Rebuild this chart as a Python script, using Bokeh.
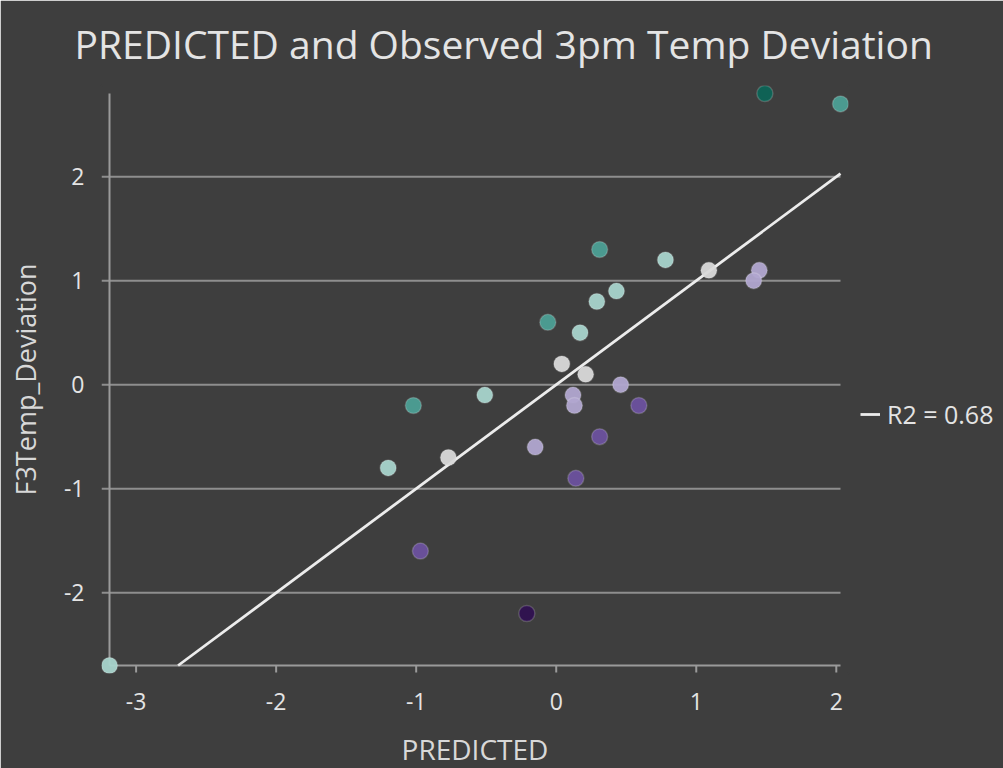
import numpy as np
from bokeh.plotting import figure
from bokeh.models import (Range1d, FixedTicker, ColumnDataSource,
                          CustomJSTickFormatter, Legend, LegendItem)
from bokeh.transform import linear_cmap
from bokeh.embed import file_html
from bokeh.resources import INLINE

# ---- data -------------------------------------------------------------
predicted = [1.49, 2.03, 0.31, 0.78, 1.09, 1.45, 1.41, 0.43, 0.29, -0.06,
             0.17, 0.04, 0.21, 0.46, 0.12, 0.13, 0.59, -0.51, -1.02, -0.15,
             0.31, 0.14, -0.77, -1.20, -0.97, -0.21, -3.19]
observed = [2.80, 2.70, 1.30, 1.20, 1.10, 1.10, 1.00, 0.90, 0.80, 0.60,
            0.50, 0.20, 0.10, 0.00, -0.10, -0.20, -0.20, -0.10, -0.20, -0.60,
            -0.50, -0.90, -0.70, -0.80, -1.60, -2.20, -2.70]
x_ticks = [-3, -2, -1, 0, 1, 2]
y_ticks = [-2, -1, 0, 1, 2]
trend_slope = 1.0
trend_intercept = 0.0
r2_text = "R2 = 0.68"
title_text = "PREDICTED and Observed 3pm Temp Deviation"
x_label = "PREDICTED"
y_label = "F3Temp_Deviation"
band_edges = [-1.2, -0.6, -0.2, 0.2, 0.6, 1.2]   # residual colour bands
band_palette = ["#2f1150", "#6c519e", "#b1a6d0", "#d9d9d9",
                "#a8d4cc", "#4c9f95", "#0d6456"]

# ---- layout constants ---------------------------------------------------
X_MIN, X_MAX = -3.19, 2.03
Y_MIN, Y_MAX = -2.70, 2.80
PX_X, PX_Y = 140.0, 104.0          # pixels per data unit
PAD = 8.0                          # frame padding (px) so edge points are not clipped
PAD_X, PAD_Y = PAD / PX_X, PAD / PX_Y
TICK_X = 7.0 / PX_Y                # x-axis tick stub length
FONT = "Open Sans"
BG = "#3e3e3e"
TXT = "#e4e4e4"
AXC = "#9a9a9a"
GRC = "#8e8e8e"

pred = np.array(predicted)
obs = np.array(observed)
band = np.digitize(obs - pred * trend_slope - trend_intercept, band_edges)
src = ColumnDataSource(dict(x=pred, y=obs, band=band))

fw = int(round((X_MAX - X_MIN + 2 * PAD_X) * PX_X))
fh = int(round((Y_MAX - Y_MIN + 2 * PAD_Y) * PX_Y))

p = figure(frame_width=fw, frame_height=fh,
           min_border_left=101, min_border_right=154,
           min_border_top=85, min_border_bottom=95,
           x_range=Range1d(X_MIN - PAD_X, X_MAX + PAD_X),
           y_range=Range1d(Y_MIN - PAD_Y, Y_MAX + PAD_Y),
           output_backend="svg", toolbar_location=None)
p.background_fill_color = BG
p.border_fill_color = BG
p.outline_line_color = BG
p.outline_line_width = 2
p.xgrid.visible = False
p.ygrid.visible = False

p.title.text = title_text
p.title.align = "left"
p.title.offset = -27
p.title.vertical_align = "middle"
p.title.text_font = FONT
p.title.text_font_size = "39px"
p.title.text_font_style = "normal"
p.title.text_color = TXT
p.title.standoff = 30

# grid lines (with the left tick stubs), axis lines, bottom tick stubs
p.segment(x0=X_MIN - PAD_X, x1=X_MAX, y0=y_ticks, y1=y_ticks,
          line_color=GRC, line_width=2)
p.segment(x0=[X_MIN, X_MIN], x1=[X_MIN, X_MAX],
          y0=[Y_MIN, Y_MIN], y1=[Y_MAX, Y_MIN],
          line_color=AXC, line_width=2)
p.segment(x0=x_ticks, x1=x_ticks, y0=Y_MIN, y1=Y_MIN - TICK_X,
          line_color=AXC, line_width=2)

# axes: labels only (lines drawn above)
fmt = CustomJSTickFormatter(code="return tick.toFixed(0);")
for ax, ticks in ((p.xaxis[0], x_ticks), (p.yaxis[0], y_ticks)):
    ax.ticker = FixedTicker(ticks=ticks)
    ax.formatter = fmt
    ax.axis_line_color = None
    ax.major_tick_line_color = None
    ax.minor_tick_line_color = None
    ax.major_tick_in = 0
    ax.major_tick_out = 0
    ax.major_label_text_color = TXT
    ax.major_label_text_font = FONT
    ax.major_label_text_font_size = "23px"
    ax.axis_label_text_color = "#d8d8d8"
    ax.axis_label_text_font = FONT
    ax.axis_label_text_font_style = "normal"

p.xaxis.major_label_standoff = 19
p.xaxis.axis_label = x_label
p.xaxis.axis_label_standoff = 17
p.xaxis.axis_label_text_font_size = "28px"
p.yaxis.major_label_standoff = 17
p.yaxis.axis_label = y_label
p.yaxis.axis_label_standoff = 17
p.yaxis.axis_label_text_font_size = "27px"

# trend line, clipped to the axis box
lo = max(X_MIN, (Y_MIN - trend_intercept) / trend_slope)
hi = min(X_MAX, (Y_MAX - trend_intercept) / trend_slope)
tx = np.array([lo, hi])
trend = p.line(tx, trend_slope * tx + trend_intercept, line_color="#ececec",
               line_width=2.8)

# points
p.scatter("x", "y", source=src, size=16,
          fill_color=linear_cmap("band", band_palette, -0.5, 6.5),
          fill_alpha=0.95,
          line_color="white", line_alpha=0.18, line_width=1.5)

# R2 legend to the right of the plot
lg = Legend(items=[LegendItem(label=r2_text, renderers=[trend])],
            location=(12, 242))
p.add_layout(lg, "right")
lg.background_fill_alpha = 0
lg.border_line_color = None
lg.padding = 0
lg.margin = 0
lg.glyph_width = 20
lg.glyph_height = 24
lg.label_height = 24
lg.label_standoff = 7
lg.label_text_color = TXT
lg.label_text_font = FONT
lg.label_text_font_size = "25px"

open("out.html", "w").write(file_html(p, INLINE))
